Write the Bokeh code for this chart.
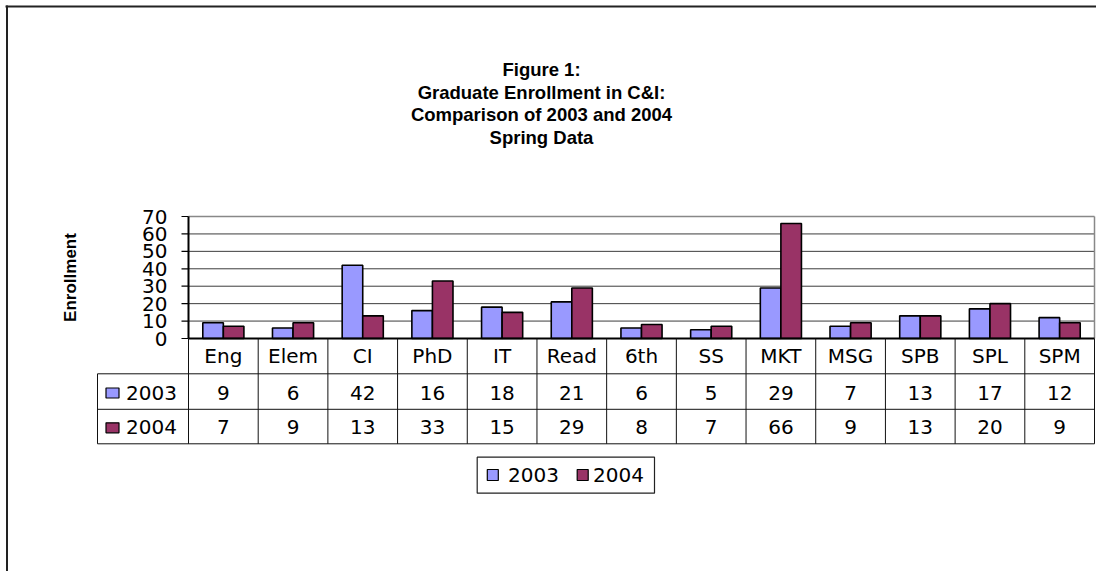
import math
from bokeh.plotting import figure
from bokeh.models import ColumnDataSource, Range1d
from bokeh.core.properties import value
from bokeh.transform import dodge
from bokeh.embed import file_html
from bokeh.resources import INLINE

# ---------------- data ----------------
categories = ["Eng", "Elem", "CI", "PhD", "IT", "Read", "6th", "SS", "MKT", "MSG", "SPB", "SPL", "SPM"]
enroll_2003 = [9, 6, 42, 16, 18, 21, 6, 5, 29, 7, 13, 17, 12]
enroll_2004 = [7, 9, 13, 33, 15, 29, 8, 7, 66, 9, 13, 20, 9]
series_names = ["2003", "2004"]
y_ticks = [0, 10, 20, 30, 40, 50, 60, 70]
title_lines = ["Figure 1:", "Graduate Enrollment in C&I:", "Comparison of 2003 and 2004", "Spring Data"]
y_label = "Enrollment"

# ---------------- layout (picture pixels) ----------------
W, H = 1096, 571
PAGE0 = 0
PLOT_L, PLOT_R = 188, 1094
Y_ZERO, Y_TOP = 338, 216
Y_MAX = 70
N = len(categories)
CW = (PLOT_R - PLOT_L) / N
YU = (Y_ZERO - Y_TOP) / Y_MAX


def xd(px):
    return (px - PLOT_L) / CW


def yd(py):
    return (Y_ZERO - py) / YU


C2003 = "#9999FF"
C2004 = "#993366"
FONT = value("DejaVu Sans")
BOLD = value("Liberation Sans")

p = figure(width=W, height=H, output_backend="svg", toolbar_location=None,
           x_range=Range1d(xd(PAGE0), xd(PAGE0 + W)),
           y_range=Range1d(yd(PAGE0 + H), yd(PAGE0)),
           x_axis_type=None, y_axis_type=None, min_border=0)
p.min_border_left = p.min_border_right = p.min_border_top = p.min_border_bottom = 0
p.grid.visible = False
p.outline_line_color = None
p.background_fill_color = "white"
p.border_fill_color = "white"

# outer chart frame (top + left visible)
p.segment(x0=[xd(5), xd(6.5)], y0=[yd(6), yd(5)],
          x1=[xd(PAGE0 + W), xd(6.5)], y1=[yd(6), yd(PAGE0 + H)],
          line_color="#222222", line_width=2)

# title
tl_mid = [69, 91.5, 114, 136.5]
p.text(x=[xd(541)] * len(title_lines), y=[yd(b) for b in tl_mid], text=title_lines,
       text_font=BOLD, text_font_style="bold", text_font_size="18.5px",
       text_align="center", text_baseline="middle", text_color="black")

# y label
p.text(x=[xd(70)], y=[yd(277)], text=[y_label], angle=math.pi / 2,
       text_font=BOLD, text_font_style="bold", text_font_size="17px",
       text_align="center", text_baseline="middle", text_color="black")

# gridlines
inner = [t for t in y_ticks if 0 < t < Y_MAX]
p.segment(x0=[0] * len(inner), x1=[N] * len(inner), y0=inner, y1=inner,
          line_color="#3c3c3c", line_width=1)
p.segment(x0=[0, N], x1=[N, N], y0=[Y_MAX, 0], y1=[Y_MAX, Y_MAX],
          line_color="#888888", line_width=1.5)

# bars
src = ColumnDataSource(dict(xc=[i + 0.5 for i in range(N)], v3=enroll_2003, v4=enroll_2004))
bw = 0.295
p.vbar(x=dodge("xc", -bw / 2, range=p.x_range), top="v3", bottom=0, width=bw, source=src,
       fill_color=C2003, line_color="black", line_width=1.6)
p.vbar(x=dodge("xc", bw / 2, range=p.x_range), top="v4", bottom=0, width=bw, source=src,
       fill_color=C2004, line_color="black", line_width=1.6)

# y axis, ticks, labels
p.segment(x0=[xd(181)] * len(y_ticks), x1=[0] * len(y_ticks), y0=y_ticks, y1=y_ticks,
          line_color="black", line_width=1.2)
p.segment(x0=[0], x1=[0], y0=[0], y1=[Y_MAX], line_color="black", line_width=2)
p.segment(x0=[0], x1=[N], y0=[0], y1=[0], line_color="black", line_width=2)
p.text(x=[xd(167)] * len(y_ticks), y=y_ticks, text=[str(t) for t in y_ticks],
       text_font=FONT, text_font_size="20px", text_align="right", text_baseline="middle",
       text_color="black")

# data table
ROW = [Y_ZERO, 373.3, 408.8, 443.3]
TBL_L = 97
p.segment(x0=[xd(TBL_L)] * 3, x1=[N] * 3, y0=[yd(r) for r in ROW[1:]], y1=[yd(r) for r in ROW[1:]],
          line_color="#111111", line_width=1)
p.segment(x0=list(range(N + 1)), x1=list(range(N + 1)), y0=[0] * (N + 1), y1=[yd(ROW[3])] * (N + 1),
          line_color="#111111", line_width=1)
p.segment(x0=[xd(TBL_L)], x1=[xd(TBL_L)], y0=[yd(ROW[1])], y1=[yd(ROW[3])],
          line_color="#111111", line_width=1)

xs = [i + 0.5 for i in range(N)]
row_mid = [355.5, 392, 426.8]
for r, vals in enumerate([categories, enroll_2003, enroll_2004]):
    p.text(x=xs, y=[yd(row_mid[r])] * N, text=[str(v) for v in vals], text_font=FONT,
           text_font_size="20px", text_align="center", text_baseline="middle",
           text_color="black")

# row labels with keys
p.rect(x=[xd(112)] * 2, y=[yd(392.5), yd(427.3)], width=13, height=10, width_units="screen",
       height_units="screen", fill_color=[C2003, C2004], line_color="black", line_width=1.2)
p.text(x=[xd(125.5)] * 2, y=[yd(row_mid[1]), yd(row_mid[2])], text=series_names,
       text_font=FONT, text_font_size="20px", text_align="left", text_baseline="middle",
       text_color="black")

# legend
p.quad(left=[xd(476.7)], right=[xd(654)], top=[yd(456.7)], bottom=[yd(492.7)],
       fill_color="white", line_color="#222222", line_width=1.2)
p.rect(x=[xd(492.3), xd(582.2)], y=[yd(474.5)] * 2, width=11, height=11, width_units="screen",
       height_units="screen", fill_color=[C2003, C2004], line_color="black", line_width=1.2)
p.text(x=[xd(507.5), xd(592.5)], y=[yd(474)] * 2, text=series_names, text_font=FONT,
       text_font_size="20px", text_align="left", text_baseline="middle", text_color="black")

open("out.html", "w").write(file_html(p, INLINE))
